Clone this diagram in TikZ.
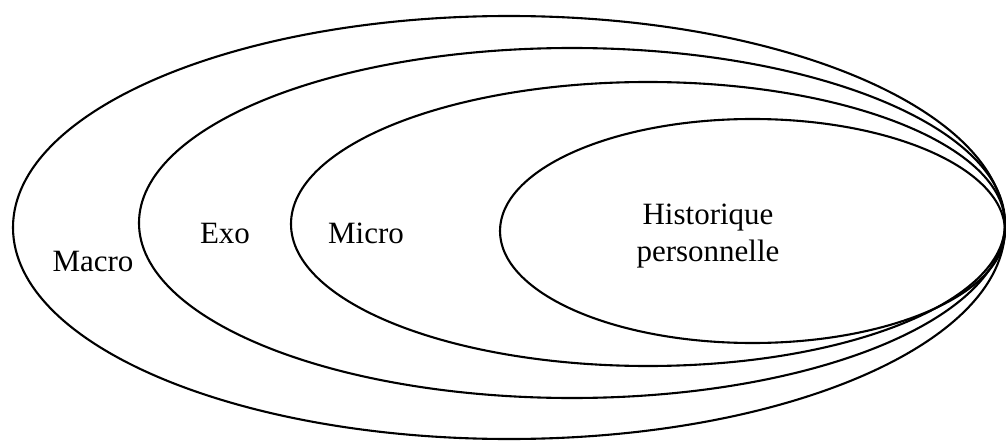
\documentclass[tikz,border=0pt]{standalone}
\usepackage{fontspec}
\setmainfont{Liberation Serif}
\usetikzlibrary{shapes.geometric}
\begin{document}
\begin{tikzpicture}[x=1pt,y=-1pt,
  ring/.style={ellipse, draw, line width=2.1pt, inner sep=0pt},
  lbl/.style={font=\fontsize{31}{37}\selectfont, inner sep=0pt, anchor=base}]
\useasboundingbox (0,0) rectangle (1006,441);
\node[ring, minimum width=992pt, minimum height=423pt] (macro) at (509,227.5) {};
\node[ring, minimum width=866pt, minimum height=350pt] (exo) at (572,223) {};
\node[ring, minimum width=714pt, minimum height=284pt] (micro) at (648,224) {};
\node[ring, minimum width=505pt, minimum height=224pt] (hist) at (752.5,231) {};
\node[lbl] (tmacro) at (93,271) {Macro};
\node[lbl] (texo) at (225,243) {Exo};
\node[lbl] (tmicro) at (366,243) {Micro};
\node[font=\fontsize{31}{37}\selectfont, inner sep=0pt, align=center] (thist) at (708,236) {Historique\\personnelle};
\end{tikzpicture}
\end{document}
